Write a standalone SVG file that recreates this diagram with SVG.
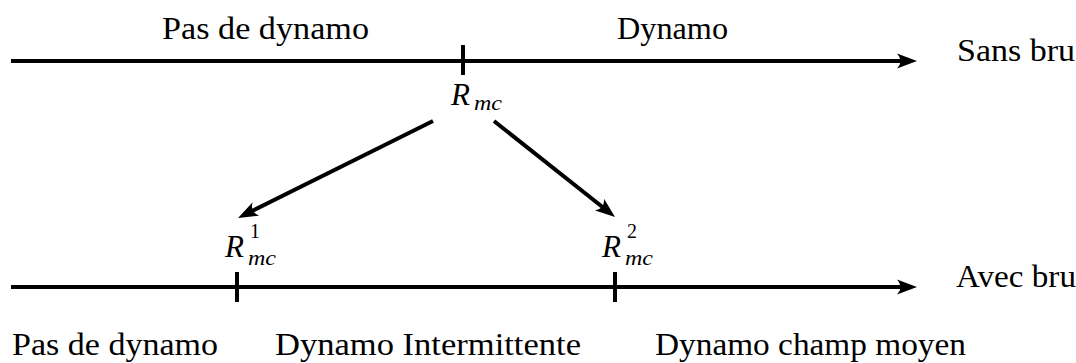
<svg xmlns="http://www.w3.org/2000/svg" width="1076" height="363" viewBox="0 0 1076 363">
  <style>
    text { font-family: 'Liberation Serif', 'DejaVu Serif', serif; fill: #000; }
    .lbl { font-size: 31px; }
    .math { font-style: italic; }
    .num { font-style: normal; font-size: 20px; }
    .axis { stroke: #000; stroke-width: 4; fill: none; stroke-linecap: butt; }
    .tick { stroke: #000; stroke-width: 4; }
  </style>
  <defs>
    <marker id="ah" viewBox="0 0 20 16" refX="10" refY="8" markerWidth="20" markerHeight="16" markerUnits="userSpaceOnUse" orient="auto">
      <path d="M20,8 L0,0.5 Q7,8 0,15.5 Z" fill="#000"/>
    </marker>
  </defs>
  <rect width="1076" height="363" fill="#fff"/>

  <g id="connectors">
    <line class="axis" x1="11" y1="61" x2="907" y2="61" marker-end="url(#ah)"/>
    <line class="axis" x1="11" y1="287" x2="907" y2="287" marker-end="url(#ah)"/>
    <line class="axis" x1="433" y1="121" x2="247" y2="213.5" marker-end="url(#ah)"/>
    <line class="axis" x1="494" y1="121" x2="607.2" y2="210.8" marker-end="url(#ah)"/>
  </g>

  <g id="top-axis" font-family="Liberation Serif">
    <line class="tick" x1="463" y1="45" x2="463" y2="75"/>
    <text class="lbl" x="162" y="39" textLength="207" lengthAdjust="spacingAndGlyphs">Pas de dynamo</text>
    <text class="lbl" x="617" y="39" textLength="111" lengthAdjust="spacingAndGlyphs">Dynamo</text>
    <text class="lbl" x="957" y="61" textLength="118" lengthAdjust="spacingAndGlyphs">Sans bru</text>
  </g>

  <g id="rmc">
    <text class="math" x="451" y="105" font-size="31">R</text>
    <text class="math" x="474" y="110" font-size="22" textLength="28" lengthAdjust="spacingAndGlyphs">mc</text>
  </g>

  <g id="rmc1">
    <line class="tick" x1="237" y1="272" x2="237" y2="302"/>
    <text class="math" x="225" y="257" font-size="31">R</text>
    <text class="num" x="250" y="238">1</text>
    <text class="math" x="248" y="265" font-size="21" textLength="28" lengthAdjust="spacingAndGlyphs">mc</text>
  </g>

  <g id="rmc2">
    <line class="tick" x1="615" y1="272" x2="615" y2="302"/>
    <text class="math" x="602" y="257" font-size="31">R</text>
    <text class="num" x="627" y="238">2</text>
    <text class="math" x="625" y="265" font-size="21" textLength="28" lengthAdjust="spacingAndGlyphs">mc</text>
  </g>

  <g id="bottom-axis">
    <text class="lbl" x="956" y="287" textLength="120" lengthAdjust="spacingAndGlyphs">Avec bru</text>
    <text class="lbl" x="12" y="355" textLength="206" lengthAdjust="spacingAndGlyphs">Pas de dynamo</text>
    <text class="lbl" x="275" y="355" textLength="306" lengthAdjust="spacingAndGlyphs">Dynamo Intermittente</text>
    <text class="lbl" x="655" y="355" textLength="311" lengthAdjust="spacingAndGlyphs">Dynamo champ moyen</text>
  </g>
</svg>
